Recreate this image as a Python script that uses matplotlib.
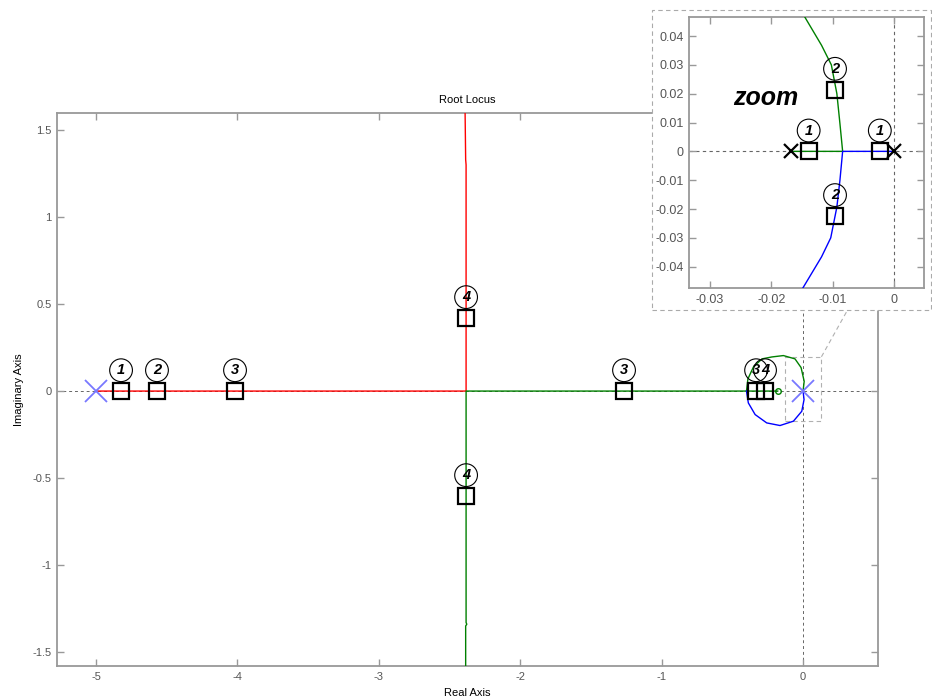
import matplotlib
matplotlib.use("Agg")
import matplotlib.pyplot as plt
from matplotlib.patches import Rectangle
from matplotlib.lines import Line2D
from matplotlib.ticker import FuncFormatter

plt.rcParams["font.family"] = ["Liberation Sans", "DejaVu Sans"]
plt.rcParams["axes.unicode_minus"] = False

# --- full-scale locus branches (real, imag) ---
red_re = [-5.0, -2.383, -2.383, -2.386, -2.390]
red_im = [0.0, 0.0, 1.30, 1.33, 1.60]
green_re = [-0.179, -2.383, -2.383, -2.378, -2.386, -2.386]
green_im = [0.0, 0.0, -1.33, -1.34, -1.35, -1.60]

# loop around the origin
loop_up_re = [-0.40, -0.39, -0.35, -0.29, -0.221, -0.139, -0.057, -0.014, 0.008, 0.0]
loop_up_im = [0.0, 0.07, 0.14, 0.185, 0.196, 0.204, 0.185, 0.135, 0.056, 0.0]
loop_dn_re = [-0.40, -0.387, -0.339, -0.257, -0.163, -0.068, -0.009, 0.007, 0.0]
loop_dn_im = [0.0, -0.068, -0.135, -0.183, -0.198, -0.173, -0.116, -0.049, 0.0]

poles_re = [-5.0, 0.0]
zeros_re = [-0.179]

# closed-loop roots for gains 1..4
gain_re = [-4.823, -4.569, -4.017, -2.383, -2.383, -1.266, -0.332, -0.269]
gain_im = [0.0, 0.0, 0.0, 0.420, -0.603, 0.0, 0.0, 0.0]
gain_lbl = ["1", "2", "3", "4", "4", "3", "3", "4"]

# --- zoomed view near the origin ---
zg_re = [-0.0168, -0.00836, -0.0088, -0.0093, -0.0102, -0.0118, -0.0145]
zg_im = [0.0, 0.0, 0.0096, 0.020, 0.030, 0.0368, 0.0465]
zb_re = [0.0, -0.00836, -0.0088, -0.0093, -0.0103, -0.0118, -0.0149]
zb_im = [0.0, 0.0, -0.010, -0.0193, -0.030, -0.0366, -0.0476]
zpoles_re = [-0.0168, 0.0]
zgain_re = [-0.0139, -0.0023, -0.0096, -0.0096]
zgain_im = [0.0, 0.0, 0.0214, -0.0224]
zgain_lbl = ["1", "1", "2", "2"]

W, H = 932, 699
SPINE = "#999999"
TICKLBL = "#555555"


def fmt(v, _):
    return f"{round(v, 4):g}"


def style_axes(ax, size):
    for s in ax.spines.values():
        s.set_color(SPINE)
        s.set_linewidth(1.3)
    ax.tick_params(direction="in", top=True, right=True, length=5, width=1,
                   color=SPINE, labelcolor=TICKLBL, labelsize=size, pad=4)
    ax.xaxis.set_major_formatter(FuncFormatter(fmt))
    ax.yaxis.set_major_formatter(FuncFormatter(fmt))


def mark_gains(ax, re, im, lbl):
    ax.plot(re, im, "s", ms=11.5, mfc="none", mec="black", mew=1.6, zorder=5)
    for x, y, t in zip(re, im, lbl):
        ax.annotate(t, (x, y), xytext=(0, 15), textcoords="offset points",
                    ha="center", va="center", fontsize=10.5, fontweight="bold",
                    fontstyle="italic", zorder=6,
                    bbox=dict(boxstyle="circle,pad=0.3", fc="none", ec="black", lw=0.8))


fig = plt.figure(figsize=(W / 100, H / 100), dpi=100)
ax = fig.add_axes([57 / W, 1 - 666 / H, 821 / W, 553 / H])

ax.axhline(0, color="#666666", ls=(0, (3, 3)), lw=0.7, zorder=1)
ax.axvline(0, color="#666666", ls=(0, (3, 3)), lw=0.7, zorder=1)
ax.plot(red_re, red_im, color="#ff0000", lw=1, zorder=3)
ax.plot(green_re, green_im, color="#008000", lw=1, zorder=3)
ax.plot(loop_up_re, loop_up_im, color="#008000", lw=1, zorder=3)
ax.plot(loop_dn_re, loop_dn_im, color="#0000ff", lw=1, zorder=3)
ax.plot(poles_re, [0] * len(poles_re), "x", ms=16, mew=1.3, color="#7878ff", zorder=4)
ax.plot(zeros_re, [0] * len(zeros_re), "o", ms=4, mfc="none", mec="#008000", mew=1, zorder=4)
mark_gains(ax, gain_re, gain_im, gain_lbl)

# zoom window around the origin
ax.add_patch(Rectangle((-0.125, -0.173), 0.255, 0.370, fill=False,
                       ec="#b0b0b0", ls=(0, (4, 3)), lw=0.8, zorder=2))

ax.set_xlim(-5.276, 0.53)
ax.set_ylim(-1.58, 1.598)
ax.set_xticks([-5, -4, -3, -2, -1, 0])
ax.set_yticks([-1.5, -1, -0.5, 0, 0.5, 1, 1.5])
style_axes(ax, 8)
ax.set_title("Root Locus", fontsize=8, pad=7)
ax.set_xlabel("Real Axis", fontsize=8, labelpad=5)
ax.set_ylabel("Imaginary Axis", fontsize=8, labelpad=6)

# frame behind the zoomed axes
fig.add_artist(Rectangle((652 / W, 1 - 310 / H), 279 / W, 300 / H,
                         transform=fig.transFigure, fc="white", ec="#aaaaaa",
                         ls=(0, (4, 3)), lw=0.8, zorder=1))
start = fig.transFigure.inverted().transform(ax.transData.transform((0.13, 0.197)))
fig.add_artist(Line2D([start[0], 847 / W], [start[1], 1 - 311 / H],
                      transform=fig.transFigure, color="#b0b0b0",
                      ls=(0, (4, 3)), lw=0.8, zorder=1))

axz = fig.add_axes([689 / W, 1 - 288.3 / H, 235 / W, 271 / H], zorder=2)
axz.axhline(0, color="#666666", ls=(0, (3, 3)), lw=0.8, zorder=1)
axz.axvline(0, color="#666666", ls=(0, (3, 3)), lw=0.8, zorder=1)
axz.plot(zg_re, zg_im, color="#008000", lw=1, zorder=3)
axz.plot(zb_re, zb_im, color="#0000ff", lw=1, zorder=3)
axz.plot(zpoles_re, [0] * len(zpoles_re), "x", ms=10.5, mew=1.6, color="black", zorder=4)
mark_gains(axz, zgain_re, zgain_im, zgain_lbl)
axz.text(-0.0209, 0.0185, "zoom", fontsize=18, fontweight="bold",
         fontstyle="italic", ha="center", va="center")
axz.set_xlim(-0.0334, 0.0049)
axz.set_ylim(-0.0475, 0.0465)
axz.set_xticks([-0.03, -0.02, -0.01, 0])
axz.set_yticks([-0.04, -0.03, -0.02, -0.01, 0, 0.01, 0.02, 0.03, 0.04])
style_axes(axz, 9)

fig.savefig("out.png", dpi=100)
